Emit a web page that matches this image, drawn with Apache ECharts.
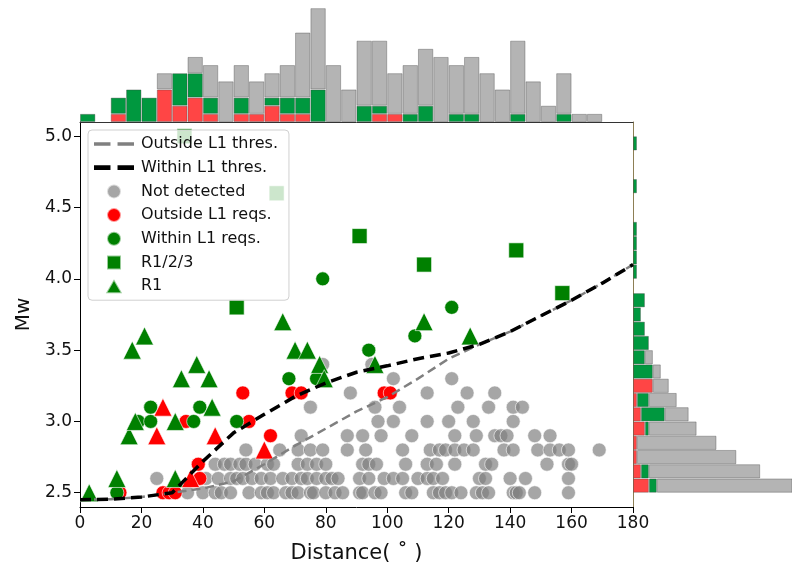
<!DOCTYPE html>
<html>
<head>
<meta charset="utf-8">
<script src="https://cdn.jsdelivr.net/npm/echarts@6/dist/echarts.min.js"></script>
<style>
  html, body { margin: 0; padding: 0; background: #fff; }
  #chart { width: 792px; height: 570px; }
</style>
</head>
<body>
<div id="chart"></div>
<script>
// detection thresholds (Mw vs distance)
const thresDist = [0, 10, 20, 30, 40, 50, 60, 70, 80, 90, 100, 110, 120, 130, 140, 150, 160, 170, 180]
const outsideThres = [2.45, 2.455, 2.47, 2.5, 2.53, 2.58, 2.7, 2.83, 2.95, 3.07, 3.17, 3.3, 3.44, 3.54, 3.63, 3.74, 3.85, 3.97, 4.1]
const withinThres = [2.45, 2.455, 2.47, 2.5, 2.72, 2.92, 3.05, 3.175, 3.27, 3.345, 3.39, 3.44, 3.48, 3.54, 3.63, 3.74, 3.85, 3.97, 4.1]

// not detected events, one row of distances per magnitude
const grayMw = [2.5, 2.6, 2.7, 2.8, 2.9, 3.0, 3.1, 3.2, 3.3, 3.4]
const grayDist = [
  [35, 40, 44, 46, 49, 55, 59, 61, 63, 67, 69, 71, 75, 76, 80, 83, 85.5, 91, 92, 96, 98, 106, 108, 115, 117, 119, 121, 124, 129, 131, 133, 141, 142, 143, 148, 159],
  [25, 41, 45, 49, 51, 53, 56, 59, 62, 66, 69, 72, 74, 77, 80, 82, 84, 91, 94, 99, 102, 105, 110, 113, 115, 118, 130, 132, 140, 145, 159],
  [44, 47, 49, 52, 54, 57, 61, 63, 71, 74, 77, 80, 92, 94, 96.5, 106, 113, 116, 122, 132, 134, 152, 159, 160],
  [54, 65, 71, 75, 79, 87, 93, 105, 114, 117, 119, 122, 125, 128, 138, 141, 149, 153, 156, 159, 169],
  [72, 87, 92, 98, 108, 122, 129, 135, 137, 139, 148, 153],
  [97, 102, 113, 120, 128, 141],
  [75, 96, 104, 123, 133, 141, 144],
  [88, 113, 126, 135],
  [102, 121],
  [79, 95]
]

const redCircles = [[13, 2.5], [27, 2.5], [29, 2.5], [31, 2.5], [34.5, 3.0], [38.5, 2.7], [39, 2.6], [53, 3.2], [55, 3.0], [62, 2.9], [69, 3.2], [72, 3.2], [99, 3.2], [101, 3.2]]
const greenCircles = [[12, 2.5], [19, 3.0], [23, 3.0], [23, 3.1], [37, 3.0], [39, 3.1], [51, 3.0], [68, 3.3], [77, 3.3], [79, 4.0], [94, 3.5], [109, 3.6], [121, 3.8]]
const greenSquares = [[34, 5.0], [51, 3.8], [64, 4.6], [91, 4.3], [112, 4.1], [142, 4.2], [157, 3.9]]
const greenTriangles = [[3, 2.5], [12, 2.6], [16, 2.9], [17, 3.5], [18, 3.0], [21, 3.6], [31, 2.6], [31, 3.0], [33, 3.3], [38, 3.4], [42, 3.3], [43, 3.1], [66, 3.7], [70, 3.5], [74, 3.5], [78, 3.4], [79.5, 3.3], [96, 3.4], [112, 3.7], [127, 3.6]]
const redTriangles = [[25, 2.9], [27, 3.1], [36, 2.6], [44, 2.9], [60, 2.8]]

// top histogram, 5 degree bins
const distBins = [0, 5, 10, 15, 20, 25, 30, 35, 40, 45, 50, 55, 60, 65, 70, 75, 80, 85, 90, 95, 100, 105, 110, 115, 120, 125, 130, 135, 140, 145, 150, 155, 160, 165, 170, 175]
const topRed = [0, 0, 1, 0, 0, 4, 2, 3, 1, 0, 1, 1, 2, 1, 1, 0, 0, 0, 0, 1, 1, 0, 0, 0, 0, 0, 0, 0, 0, 0, 0, 0, 0, 0, 0, 0]
const topGreen = [1, 0, 2, 4, 3, 0, 4, 3, 2, 0, 2, 0, 1, 2, 2, 4, 0, 0, 2, 1, 0, 1, 2, 0, 1, 1, 0, 0, 1, 0, 0, 1, 0, 0, 0, 0]
const topGray = [0, 0, 0, 0, 0, 2, 0, 2, 4, 5, 4, 4, 3, 4, 8, 10, 7, 4, 8, 8, 5, 6, 7, 8, 6, 7, 6, 4, 9, 5, 2, 5, 1, 1, 0, 0]

// right histogram, 0.1 Mw bins
const mwBins = ['2.4', '2.5', '2.6', '2.7', '2.8', '2.9', '3.0', '3.1', '3.2', '3.3', '3.4', '3.5', '3.6', '3.7', '3.8', '3.9', '4.0', '4.1', '4.2', '4.3', '4.4', '4.5', '4.6', '4.7', '4.8', '4.9', '5.0']
const sideRed = [0, 4, 2, 1, 1, 3, 2, 1, 5, 0, 0, 0, 0, 0, 0, 0, 0, 0, 0, 0, 0, 0, 0, 0, 0, 0, 0]
const sideGreen = [0, 2, 2, 0, 0, 1, 6, 3, 0, 5, 3, 4, 3, 2, 3, 0, 1, 1, 1, 1, 0, 0, 1, 0, 0, 1, 0]
const sideGray = [0, 36, 28, 25, 20, 12, 6, 7, 4, 2, 2, 0, 0, 0, 0, 0, 0, 0, 0, 0, 0, 0, 0, 0, 0, 0, 0]

const grayPoints = []
grayDist.forEach(function (row, i) {
  row.forEach(function (d) { grayPoints.push([d, grayMw[i]]) })
})

const font = 'DejaVu Sans'
const edge = 'rgba(255,255,255,0.6)'
const histEdge = 'rgba(60,60,60,0.35)'
const nz = function (arr) { return arr.map(function (v) { return v || null }) }

// legend icons (paths keep their aspect)
const dashIcon = 'path://M0,0h14v3h-14z M20,0h14v3h-14z'
const dashIconBold = 'path://M0,0h14v4h-14z M20,0h14v4h-14z'
const squareIcon = 'path://M0,0h10v10h-10z'
const triIcon = 'path://M0,10L5.8,0L11.6,10Z'

const chart = echarts.init(document.getElementById('chart'))

function scatter(name, data, symbol, size, color) {
  return {
    name: name,
    type: 'scatter',
    xAxisIndex: 0,
    yAxisIndex: 0,
    data: data,
    symbol: symbol,
    symbolSize: size,
    itemStyle: { color: color, borderColor: edge, borderWidth: 1, opacity: 1 },
    z: 2
  }
}

function bar(x, y, stack, data, color) {
  return {
    type: 'bar',
    xAxisIndex: x,
    yAxisIndex: y,
    stack: stack,
    data: nz(data),
    barCategoryGap: '0%',
    itemStyle: { color: color, borderColor: histEdge, borderWidth: 1 },
    silent: true
  }
}

const option = {
  animation: false,
  backgroundColor: '#fff',
  textStyle: { fontFamily: font },
  grid: [
    { left: 80, top: 122, width: 553, height: 385 },
    { left: 80, top: 0, width: 553, height: 122 },
    { left: 633, top: 122, width: 159, height: 385 }
  ],
  legend: {
    left: 88,
    top: 130,
    orient: 'vertical',
    itemWidth: 40,
    itemHeight: 14,
    itemGap: 7.7,
    symbolKeepAspect: true,
    padding: [6, 11, 6, 6],
    backgroundColor: 'rgba(255,255,255,0.8)',
    borderColor: '#d0d0d0',
    borderWidth: 1,
    borderRadius: 4,
    selectedMode: false,
    textStyle: { fontFamily: font, fontSize: 16, color: '#111', padding: [0, 0, 0, 2] },
    data: [
      { name: 'Outside L1 thres.', icon: dashIcon, itemStyle: { color: '#808080' } },
      { name: 'Within L1 thres.', icon: dashIconBold, itemStyle: { color: '#000' } },
      { name: 'Not detected', icon: 'circle' },
      { name: 'Outside L1 reqs.', icon: 'circle' },
      { name: 'Within L1 reqs.', icon: 'circle' },
      { name: 'R1/2/3', icon: squareIcon },
      { name: 'R1', icon: triIcon }
    ]
  },
  xAxis: [
    {
      type: 'value', gridIndex: 0, min: 0, max: 180, interval: 20,
      name: 'Distance( ˚ )', nameLocation: 'middle', nameGap: 36,
      nameTextStyle: { fontFamily: font, fontSize: 21, color: '#111' },
      axisLine: { show: true, lineStyle: { color: '#000', width: 1 } },
      axisTick: { show: true, length: 6, lineStyle: { color: '#000' } },
      axisLabel: { fontFamily: font, fontSize: 17, color: '#111', margin: 8 },
      splitLine: { show: false }
    },
    {
      type: 'category', gridIndex: 1, data: distBins, boundaryGap: true,
      axisLine: { show: true, lineStyle: { color: '#333', width: 1 } },
      axisTick: { show: false }, axisLabel: { show: false }, splitLine: { show: false }
    },
    {
      type: 'value', gridIndex: 2, min: 0, max: 40, show: false, splitLine: { show: false }
    }
  ],
  yAxis: [
    {
      type: 'value', gridIndex: 0, min: 2.4, max: 5.1,
      name: 'Mw', nameLocation: 'middle', nameGap: 44,
      nameTextStyle: { fontFamily: font, fontSize: 20, color: '#111' },
      axisLine: { show: true, lineStyle: { color: '#000', width: 1 } },
      axisTick: { show: true, length: 6, lineStyle: { color: '#000' }, customValues: [2.5, 3.0, 3.5, 4.0, 4.5, 5.0] },
      axisLabel: {
        fontFamily: font, fontSize: 17, color: '#111', margin: 8,
        customValues: [2.5, 3.0, 3.5, 4.0, 4.5, 5.0],
        formatter: function (v) { return v.toFixed(1) }
      },
      splitLine: { show: false }
    },
    {
      type: 'value', gridIndex: 1, min: 0, max: 15, show: false, splitLine: { show: false }
    },
    {
      type: 'category', gridIndex: 2, data: mwBins, boundaryGap: true,
      axisLine: { show: true, lineStyle: { color: '#8d7f55', width: 1 } },
      axisTick: { show: false }, axisLabel: { show: false }, splitLine: { show: false }
    }
  ],
  series: [
    scatter('Not detected', grayPoints, 'circle', 14, 'rgba(128,128,128,0.7)'),
    scatter('Outside L1 reqs.', redCircles, 'circle', 14, '#ff0000'),
    scatter('Within L1 reqs.', greenCircles, 'circle', 14, '#008000'),
    scatter('R1/2/3', greenSquares, 'rect', 15, '#008000'),
    scatter('R1', greenTriangles, 'triangle', 18, '#008000'),
    scatter('R1 outside', redTriangles, 'triangle', 18, '#ff0000'),
    {
      name: 'Outside L1 thres.',
      type: 'line',
      xAxisIndex: 0, yAxisIndex: 0,
      data: thresDist.map(function (d, i) { return [d, outsideThres[i]] }),
      symbol: 'none',
      lineStyle: { color: '#808080', width: 2.5, type: [9, 5] },
      itemStyle: { color: '#808080' },
      z: 5
    },
    {
      name: 'Within L1 thres.',
      type: 'line',
      xAxisIndex: 0, yAxisIndex: 0,
      data: thresDist.map(function (d, i) { return [d, withinThres[i]] }),
      symbol: 'none',
      lineStyle: { color: '#000', width: 3.5, type: [11, 6] },
      itemStyle: { color: '#000' },
      z: 6
    },
    bar(1, 1, 'top', topRed, '#ff4545'),
    bar(1, 1, 'top', topGreen, '#00983f'),
    bar(1, 1, 'top', topGray, '#b4b4b4'),
    bar(2, 2, 'side', sideRed, '#ff4545'),
    bar(2, 2, 'side', sideGreen, '#00983f'),
    bar(2, 2, 'side', sideGray, '#b4b4b4')
  ]
}

chart.setOption(option)
</script>
</body>
</html>
